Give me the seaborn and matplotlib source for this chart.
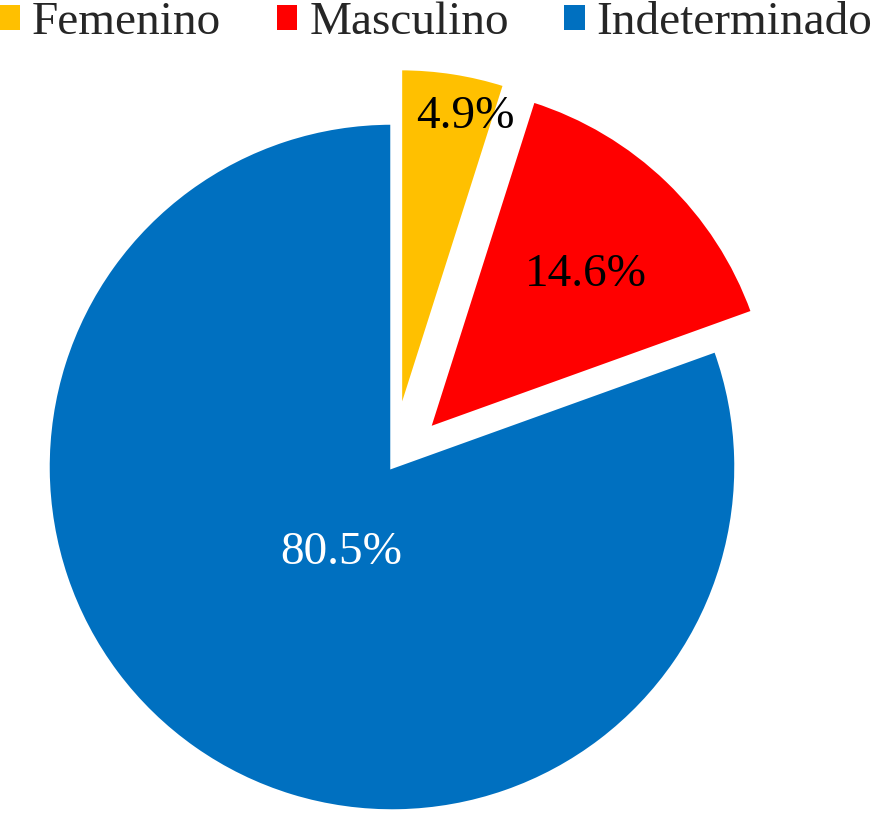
# Distribución por sexo - gráfico circular
import numpy as np
import matplotlib
matplotlib.use('Agg')
import matplotlib.pyplot as plt
from matplotlib.patches import Patch
import seaborn as sns

# datos
categorias = ['Femenino', 'Masculino', 'Indeterminado']
porcentajes = [4.9, 14.6, 80.5]
colores = ['#FFC000', '#FF0000', '#0070C0']
separacion = [0.16, 0.155, 0.0]
# ubicación de etiquetas: distancia relativa al radio y fracción del ángulo de la porción
dist_etiqueta = [0.88, 0.64, 0.29]
frac_angulo = [0.30, 0.47, 0.515]
color_texto = ['black', 'black', 'white']

sns.set_theme(style='white')
plt.rcParams['font.family'] = ['Liberation Serif', 'DejaVu Serif']

fig = plt.figure(figsize=(8.72, 8.16), dpi=100)
ax = fig.add_axes([0, 0, 1, 1])

# radio de 344 px, centro en (392, 467) px
R = 344.0
wedges, _, autotexts = ax.pie(
    porcentajes,
    colors=colores,
    explode=separacion,
    startangle=90,
    counterclock=False,
    autopct='%1.1f%%',
    wedgeprops=dict(edgecolor='white', linewidth=2.5),
    textprops=dict(fontsize=34),
)

# posicion de etiquetas por porción
for w, t, d, f, c in zip(wedges, autotexts, dist_etiqueta, frac_angulo, color_texto):
    t1, t2 = sorted([w.theta1, w.theta2])
    ang = np.deg2rad(t1 + f * (t2 - t1))
    cx, cy = w.center
    t.set_position((cx + d * w.r * np.cos(ang), cy + d * w.r * np.sin(ang)))
    t.set_color(c)

ax.set_xlim(-392 / R, (872 - 392) / R)
ax.set_ylim(-(816 - 467) / R, 467 / R)
ax.set_aspect('equal')
ax.axis('off')

# leyenda superior
handles = [Patch(facecolor=c, edgecolor='none') for c in colores]
fig.legend(
    handles, categorias,
    loc='upper center', bbox_to_anchor=(0.5, 0.998),
    ncol=3, frameon=False, fontsize=34,
    handlelength=0.44, handleheight=0.44, handletextpad=0.25,
    columnspacing=1.17, borderaxespad=0, borderpad=0,
)

plt.savefig('out.png', dpi=100)
